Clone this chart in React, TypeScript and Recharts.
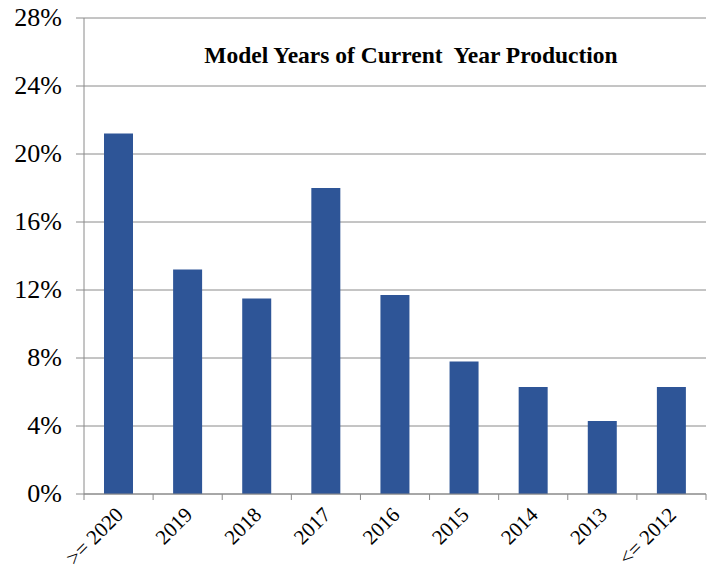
import React from "react";
import { BarChart, Bar, XAxis, YAxis, CartesianGrid } from "recharts";

const categories = [">= 2020", "2019", "2018", "2017", "2016", "2015", "2014", "2013", "<= 2012"];
const shares = [21.2, 13.2, 11.5, 18.0, 11.7, 7.8, 6.3, 4.3, 6.3];
const yTicks = [0, 4, 8, 12, 16, 20, 24, 28];

const data = categories.map((year, i) => ({ year, share: shares[i] }));

const W = 707;
const H = 572;
const M = { top: 18, right: 1, left: 0, bottom: 0 };
const Y_AXIS_W = 84;
const X_AXIS_H = 78;
const AXIS_COLOR = "#8a8a8a";
const FONT = "'Liberation Serif', 'Times New Roman', serif";
const BAND = (W - M.left - M.right - Y_AXIS_W) / categories.length;

const XTick = (props: any) => {
  const { x, y, payload, index } = props;
  const half = BAND / 2;
  const last = index === categories.length - 1;
  return (
    <g>
      <line x1={x - half} y1={y - 8} x2={x - half} y2={y - 2} stroke={AXIS_COLOR} strokeWidth={1} />
      {last && (
        <line x1={x + half} y1={y - 8} x2={x + half} y2={y - 2} stroke={AXIS_COLOR} strokeWidth={1} />
      )}
      <text
        x={x + 6}
        y={y + 14}
        textAnchor="end"
        transform={`rotate(-45, ${x + 6}, ${y + 14})`}
        style={{ fontFamily: FONT, fontSize: 21 }}
        fill="#000"
      >
        {payload.value}
      </text>
    </g>
  );
};

const YTick = (props: any) => {
  const { x, y, payload } = props;
  return (
    <g>
      <line x1={x + 14} y1={y} x2={x + 22} y2={y} stroke={AXIS_COLOR} strokeWidth={1} />
      <text
        x={x}
        y={y}
        dy={8}
        textAnchor="end"
        style={{ fontFamily: FONT, fontSize: 26 }}
        fill="#000"
      >
        {`${payload.value}%`}
      </text>
    </g>
  );
};

export default function App() {
  return (
    <div style={{ position: "absolute", left: 0, top: 0, background: "#fff" }}>
      <BarChart width={W} height={H} data={data} margin={M} barSize={29}>
        <CartesianGrid vertical={false} stroke={AXIS_COLOR} strokeWidth={1} />
        <XAxis
          dataKey="year"
          height={X_AXIS_H}
          interval={0}
          stroke={AXIS_COLOR}
          tickLine={false}
          tick={<XTick />}
        />
        <YAxis
          width={Y_AXIS_W}
          domain={[0, 28]}
          ticks={yTicks}
          interval={0}
          stroke={AXIS_COLOR}
          tickLine={false}
          tickSize={8}
          tickMargin={14}
          tick={<YTick />}
        />
        <Bar dataKey="share" fill="#2E5597" isAnimationActive={false} />
        <text
          x={411}
          y={63}
          textAnchor="middle"
          fill="#000"
          style={{ fontFamily: FONT, fontSize: 23.5, fontWeight: "bold", whiteSpace: "pre" }}
        >
          Model Years of Current  Year Production
        </text>
      </BarChart>
    </div>
  );
}
